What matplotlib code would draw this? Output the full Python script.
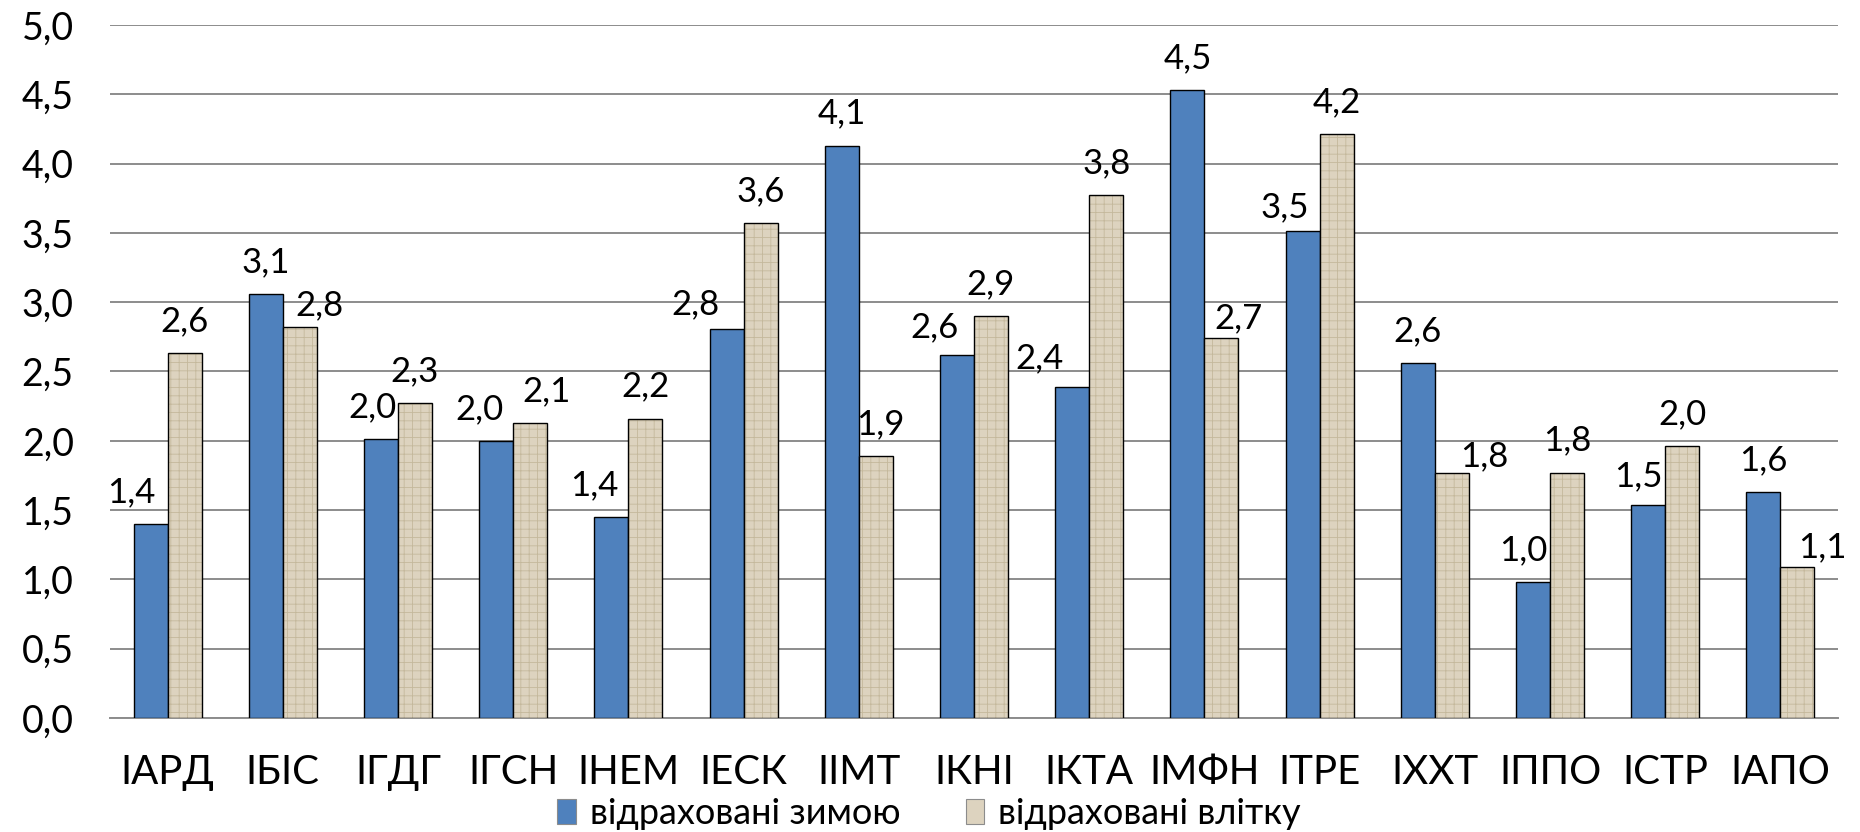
import matplotlib.pyplot as plt
import numpy as np

# institutes and the two series (share of expelled students, %)
institutes = ['ІАРД', 'ІБІС', 'ІГДГ', 'ІГСН', 'ІНЕМ', 'ІЕСК', 'ІІМТ', 'ІКНІ',
              'ІКТА', 'ІМФН', 'ІТРЕ', 'ІХХТ', 'ІППО', 'ІСТР', 'ІАПО']
winter = [1.40, 3.06, 2.01, 2.00, 1.45, 2.81, 4.13, 2.62,
          2.39, 4.53, 3.51, 2.56, 0.98, 1.54, 1.63]
summer = [2.63, 2.82, 2.27, 2.13, 2.16, 3.57, 1.89, 2.90,
          3.77, 2.74, 4.21, 1.77, 1.77, 1.96, 1.09]
series_names = ['відраховані зимою', 'відраховані влітку']
yticks = [0.0, 0.5, 1.0, 1.5, 2.0, 2.5, 3.0, 3.5, 4.0, 4.5, 5.0]

# hand-placed label nudges (pixels) like in the original Excel chart
winter_nudge = [(-19, 0), (0, 0), (-8, 0), (-17, 0), (-17, 0), (-31, -8), (0, 0), (-22, -4),
                (-33, -4), (0, 0), (-18, -8), (0, 0), (-10, 0), (-10, -4), (0, 0)]
summer_nudge = [(0, 0), (20, -10), (0, 0), (16, 0), (0, 0), (0, 0), (5, 0), (0, 0),
                (0, 0), (17, -12), (0, 0), (32, -16), (0, 0), (0, 0), (25, -12)]

plt.rcParams['font.family'] = ['Lato', 'DejaVu Sans']
plt.rcParams['hatch.linewidth'] = 0.6

fig = plt.figure(figsize=(18.6, 8.32), dpi=100)
ax = fig.add_axes([0.0591, 0.137, 0.9291, 0.833])

x = np.arange(len(institutes))
w = 0.295

blue = '#4F81BD'
beige = '#DDD3BF'

ax.bar(x - w / 2, winter, w, color=blue, edgecolor='black', linewidth=1.0, zorder=3)
# textured beige fill, then a black outline on top
ax.bar(x + w / 2, summer, w, color=beige, edgecolor='#C4B89C', hatch='++', linewidth=0, zorder=3)
ax.bar(x + w / 2, summer, w, color='none', edgecolor='black', linewidth=1.0, zorder=4)

def fmt(v):
    return f'{v:.1f}'.replace('.', ',')

for i in range(len(x)):
    dx, dy = winter_nudge[i]
    ax.annotate(fmt(winter[i]), (x[i] - w / 2, winter[i]), xytext=(dx * 0.72, (22 + dy) * 0.72),
                textcoords='offset points', ha='center', va='baseline', fontsize=25, zorder=5)
    dx, dy = summer_nudge[i]
    ax.annotate(fmt(summer[i]), (x[i] + w / 2, summer[i]), xytext=(dx * 0.72, (22 + dy) * 0.72),
                textcoords='offset points', ha='center', va='baseline', fontsize=25, zorder=5)

ax.set_xlim(-0.5, len(institutes) - 0.5)
ax.set_ylim(0, 5)
ax.set_yticks(yticks)
ax.set_yticklabels([fmt(v) for v in yticks], fontsize=27)
ax.set_xticks(x)
ax.set_xticklabels(institutes, fontsize=29)
ax.tick_params(axis='y', length=0, pad=26)
ax.tick_params(axis='x', length=0, pad=26)
ax.grid(axis='y', color='#8C8C8C', linewidth=1.4, zorder=0)
for s in ['top', 'right', 'left']:
    ax.spines[s].set_visible(False)
ax.spines['bottom'].set_color('#8C8C8C')
ax.spines['bottom'].set_linewidth(1.4)

handles = [plt.Rectangle((0, 0), 1, 1, facecolor=blue, edgecolor='#8C8C8C', linewidth=0.8),
           plt.Rectangle((0, 0), 1, 1, facecolor=beige, edgecolor='#8C8C8C', linewidth=0.8)]
fig.legend(handles, series_names, loc='center', bbox_to_anchor=(0.4995, 0.022), ncol=2,
           frameon=False, fontsize=26, handlelength=0.5, handleheight=0.65,
           handletextpad=0.4, columnspacing=1.8, borderpad=0)

fig.savefig('out.png', dpi=100)
